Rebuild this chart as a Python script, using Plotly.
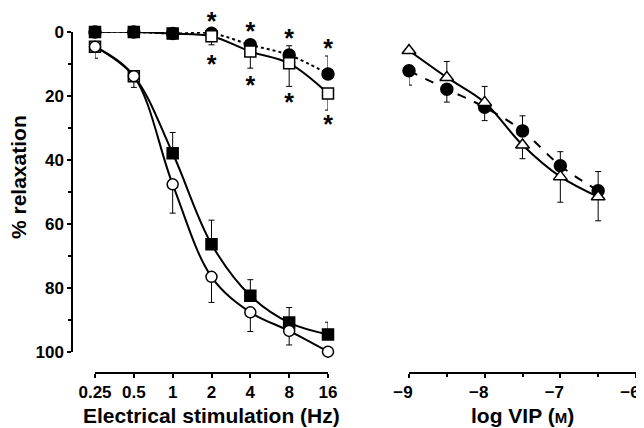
import numpy as np
import plotly.graph_objects as go

# left panel: frequency (Hz), plotted on a log2 axis
freq = [0.25, 0.5, 1, 2, 4, 8, 16]
freq_labels = ['0.25', '0.5', '1', '2', '4', '8', '16']

# curves that fall steeply
open_circ = [4.6, 13.8, 47.6, 76.5, 87.6, 93.4, 99.9]
open_circ_err = [3.6, 3.5, 9.0, 8.0, 6.0, 4.4, 0]
fill_sq = [4.6, 13.8, 37.9, 66.3, 82.4, 90.8, 94.5]
fill_sq_err = [0, 0, 6.5, 7.5, 5.0, 4.7, 3.8]

# curves that stay near zero
top_sq = [0, 0, 0.5, 1.3, 6.1, 9.8, 19.2]
top_sq_err = [0, 0, 0, 2.7, 5.2, 7.2, 5.2]
top_circ = [0, 0, 0.5, 0.4, 4.0, 7.2, 13.1]
top_circ_err = [0, 0, 0, 0, 0, 2.9, 5.6]

# significance stars
star_freq = [2, 4, 8, 16]
star_above = [-5.0, -1.9, 0.3, 3.4]
star_below = [8.4, 15.0, 20.3, 27.2]

# right panel: log VIP (M)
log_vip = [-9, -8.5, -8, -7.5, -7, -6.5]
tri = [5.8, 14.2, 22.0, 35.3, 45.2, 51.5]
tri_err = [0, 5.0, 5.0, 4.3, 8.0, 7.5]
vip_circ = [12.1, 17.9, 23.5, 30.9, 41.8, 49.6]
vip_circ_err = [4.5, 4.0, 4.2, 4.7, 4.4, 6.0]

W, H = 644, 428
OFF = 8  # page body margin
lx = np.log2(freq)
font = dict(family='Liberation Sans', size=17, color='black', weight='bold')
title_font = dict(family='Liberation Sans', size=21, color='black', weight='bold')

fig = go.Figure()


def add(x, y, xa, ya, symbol, color, dash, up=None, down=None, size=11):
    n = len(y)
    fig.add_trace(go.Scatter(
        x=x, y=y, xaxis=xa, yaxis=ya, mode='lines+markers',
        line=dict(color='black', width=2, dash=dash, shape='spline', smoothing=1.0),
        marker=dict(symbol=symbol, size=size, color=color,
                    line=dict(color='black', width=1.5)),
        error_y=dict(type='data', symmetric=False,
                     array=down if down is not None else [0] * n,
                     arrayminus=up if up is not None else [0] * n,
                     color='black', thickness=1, width=3),
        cliponaxis=False, showlegend=False))


# steep curves
add(lx, fill_sq, 'x', 'y', 'square', ['white', 'white'] + ['black'] * 5, 'solid', up=fill_sq_err)
add(lx, open_circ, 'x', 'y', 'circle', 'white', 'solid', down=open_circ_err)
# flat curves
add(lx, top_circ, 'x', 'y', 'circle', 'black', 'dot', up=top_circ_err, size=12)
add(lx, top_sq, 'x', 'y', 'square', ['black'] * 3 + ['white'] * 4, 'solid', down=top_sq_err)

# VIP panel
add(log_vip, vip_circ, 'x2', 'y2', 'circle', 'black', 'dash', size=12,
    down=vip_circ_err[:3] + [0, 0, 0], up=[0, 0, 0] + vip_circ_err[3:])
add(log_vip, tri, 'x2', 'y2', 'triangle-up', 'white', 'solid', size=12,
    up=tri_err[:3] + [0, 0, 0], down=[0, 0, 0] + tri_err[3:])

# asterisks, in their own hidden subplot so the ones above 0 are not dropped
fig.add_trace(go.Scatter(x=np.log2(star_freq * 2), y=star_above + star_below,
                         xaxis='x3', yaxis='y3',
                         mode='text', text=['*'] * 8, textposition='middle center',
                         textfont=dict(family='Liberation Sans', size=25, color='black',
                                       weight='bold'),
                         cliponaxis=False, showlegend=False))


def px_x(p):
    return (p - OFF) / W


def px_y(p):
    return 1 - (p - OFF) / H


ax_common = dict(showline=True, linecolor='black', linewidth=1.5, ticks='outside',
                 ticklen=4, tickcolor='black', tickwidth=1.5, showgrid=False,
                 zeroline=False, tickfont=font, automargin=False)

fig.update_layout(
    width=W, height=H, margin=dict(l=0, r=0, t=0, b=0),
    paper_bgcolor='rgba(0,0,0,0)', plot_bgcolor='rgba(0,0,0,0)',
    xaxis=dict(domain=[px_x(95), px_x(328)], range=[-2, 4], anchor='free',
               position=px_y(373), tickvals=lx, ticktext=freq_labels, **ax_common),
    yaxis=dict(domain=[px_y(352), px_y(32)], range=[100, 0], anchor='free',
               position=px_x(72), tickvals=[0, 20, 40, 60, 80, 100],
               minor=dict(tickvals=[10, 30, 50, 70, 90], ticks='outside', ticklen=3,
                          tickcolor='black'), **ax_common),
    xaxis2=dict(domain=[px_x(409), px_x(636)], range=[-9, -6], anchor='free',
                position=px_y(373), tickvals=[-9, -8, -7, -6],
                ticktext=['\u22129', '\u22128', '\u22127', '\u22126'], ticklabelshift=-6,
                minor=dict(tickvals=[-8.5, -7.5, -6.5], ticks='outside', ticklen=3,
                           tickcolor='black'), **ax_common),
    yaxis2=dict(domain=[px_y(352), px_y(32)], range=[100, 0], anchor='x2', visible=False),
    # same scale as the left panel, nudged down to centre the '*' glyph
    xaxis3=dict(domain=[px_x(95), px_x(328)], range=[-2, 4], anchor='y3', visible=False),
    yaxis3=dict(domain=[px_y(359.5), px_y(9.5)], range=[100, -9.375], anchor='x3',
                visible=False),
)

fig.add_annotation(text='Electrical stimulation (Hz)', x=px_x(211), y=px_y(415),
                   xref='paper', yref='paper', showarrow=False, font=title_font,
                   xanchor='center', yanchor='middle')
fig.add_annotation(text="log VIP (<span style='font-size:15px'>M</span>)", x=px_x(522), y=px_y(415),
                   xref='paper', yref='paper', showarrow=False, font=title_font,
                   xanchor='center', yanchor='middle')
fig.add_annotation(text='% relaxation', x=px_x(19), y=px_y(177), textangle=-90,
                   xref='paper', yref='paper', showarrow=False, font=title_font,
                   xanchor='center', yanchor='middle')

fig.write_html('out.html')
